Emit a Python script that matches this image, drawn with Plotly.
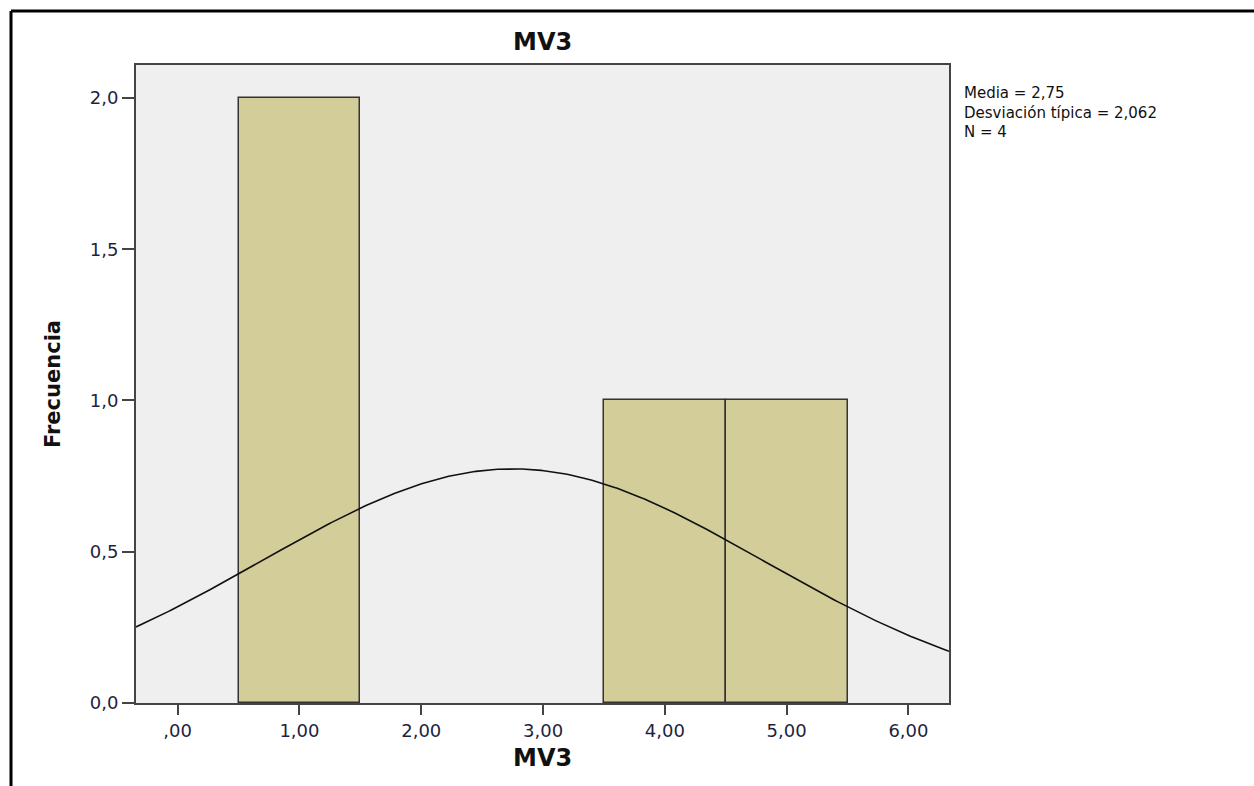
import numpy as np
import plotly.graph_objects as go

# Histogram of MV3 (bin width 1)
bin_centers = [1.0, 4.0, 5.0]
frequencies = [2, 1, 1]
bin_width = 1.0

# Fitted normal curve parameters
mean_val = 2.75
std_val = 2.062
n_val = 4

x_tickvals = [0, 1, 2, 3, 4, 5, 6]
x_ticktext = [",00", "1,00", "2,00", "3,00", "4,00", "5,00", "6,00"]
y_tickvals = [0, 0.5, 1.0, 1.5, 2.0]
y_ticktext = ["0,0", "0,5", "1,0", "1,5", "2,0"]

stats_lines = ["Media = 2,75", "Desviación típica = 2,062", "N = 4"]

W, H = 1254, 786
L, R, T, B = 136, 305, 65, 83
x_range = [-0.342, 6.333]
y_range = [0, 2.109]


def px(xp):
    return (xp - L) / (W - L - R)


def py(yp):
    return (H - B - yp) / (H - T - B)


FONT = "DejaVu Sans"
TICK_COLOR = "#1f1f3f"

# Normal density scaled to frequency
xs = np.linspace(x_range[0], x_range[1], 300)
ys = n_val * bin_width / (std_val * np.sqrt(2 * np.pi)) * np.exp(-0.5 * ((xs - mean_val) / std_val) ** 2)

fig = go.Figure()
fig.add_trace(go.Bar(
    x=bin_centers, y=frequencies, width=bin_width,
    marker=dict(color="#D3CE99", line=dict(color="#333333", width=1.5)),
    hoverinfo="skip",
))
fig.add_trace(go.Scatter(
    x=xs, y=ys, mode="lines",
    line=dict(color="#111111", width=1.6),
    hoverinfo="skip",
))

annotations = [
    dict(text="<b>MV3</b>", x=px((L + W - R) / 2), y=py(42), xref="paper", yref="paper",
         showarrow=False, font=dict(family=FONT, size=24, color="#111111"),
         xanchor="center", yanchor="middle"),
    dict(text="<b>MV3</b>", x=px((L + W - R) / 2), y=py(758), xref="paper", yref="paper",
         showarrow=False, font=dict(family=FONT, size=24, color="#111111"),
         xanchor="center", yanchor="middle"),
    dict(text="<b>Frecuencia</b>", x=px(53), y=py(384), xref="paper", yref="paper",
         showarrow=False, textangle=-90, font=dict(family=FONT, size=21, color="#111111"),
         xanchor="center", yanchor="middle"),
    dict(text="<br>".join(stats_lines), x=px(962), y=py(113), xref="paper", yref="paper",
         showarrow=False, align="left", font=dict(family=FONT, size=15, color="#111111"),
         xanchor="left", yanchor="middle"),
]

shapes = [
    dict(type="line", xref="paper", yref="paper",
         x0=px(11), x1=px(W + 5), y0=py(11), y1=py(11),
         line=dict(color="#000000", width=3)),
    dict(type="line", xref="paper", yref="paper",
         x0=px(11), x1=px(11), y0=py(11), y1=py(H + 5),
         line=dict(color="#000000", width=3)),
]

fig.update_layout(
    width=W, height=H,
    margin=dict(l=L, r=R, t=T, b=B),
    paper_bgcolor="#FFFFFF",
    plot_bgcolor="#EFEFEF",
    showlegend=False,
    bargap=0,
    annotations=annotations,
    shapes=shapes,
    font=dict(family=FONT, color=TICK_COLOR),
)
fig.update_xaxes(
    range=x_range, tickvals=x_tickvals, ticktext=x_ticktext,
    showgrid=False, zeroline=False,
    showline=True, linecolor="#444444", linewidth=2, mirror=True,
    ticks="outside", ticklen=10, tickwidth=2, tickcolor="#444444",
    tickfont=dict(family=FONT, size=18, color=TICK_COLOR),
)
fig.update_yaxes(
    range=y_range, tickvals=y_tickvals, ticktext=y_ticktext,
    showgrid=False, zeroline=False,
    showline=True, linecolor="#444444", linewidth=2, mirror=True,
    ticks="outside", ticklen=12, tickwidth=2, tickcolor="#444444",
    tickfont=dict(family=FONT, size=18, color=TICK_COLOR),
)

fig.write_html("out.html")
